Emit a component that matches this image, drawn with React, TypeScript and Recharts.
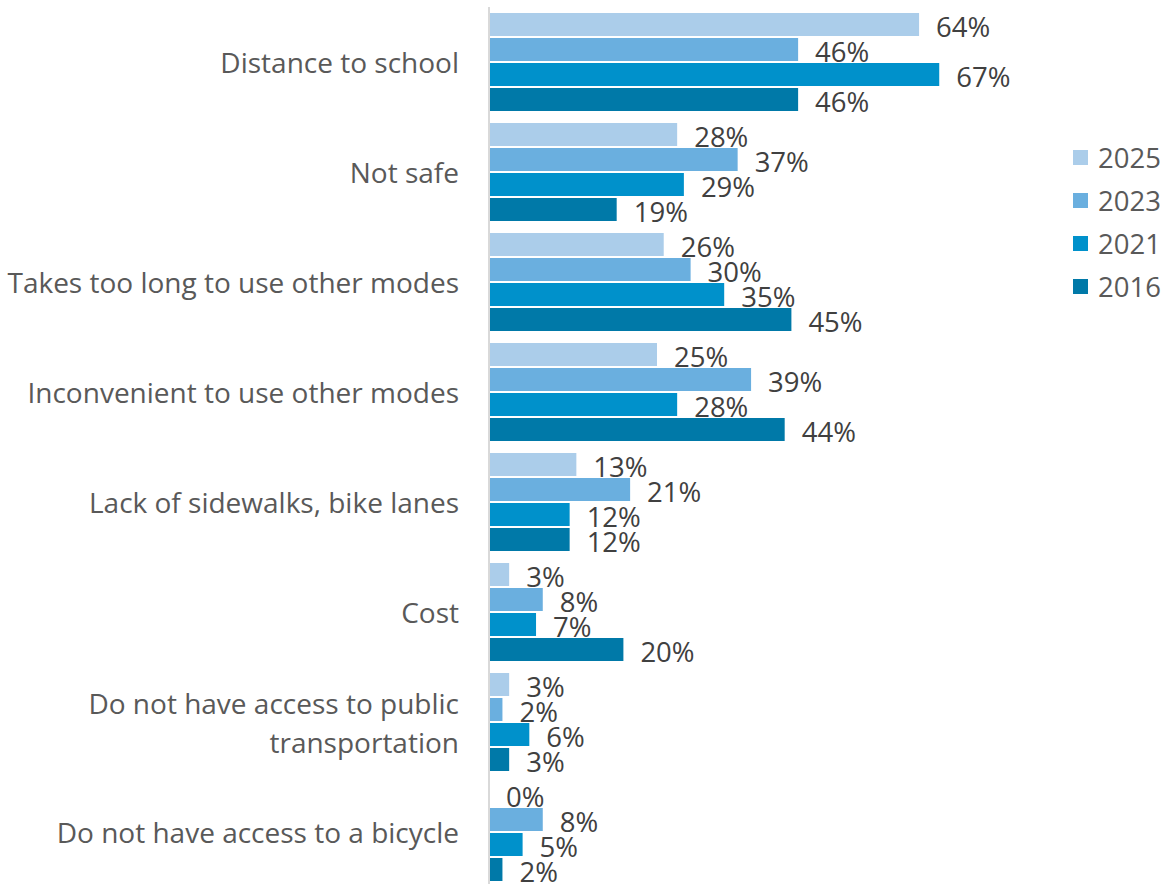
import React from "react";
import { BarChart, Bar, XAxis, YAxis } from "recharts";

const categories = [
  "Distance to school",
  "Not safe",
  "Takes too long to use other modes",
  "Inconvenient to use other modes",
  "Lack of sidewalks, bike lanes",
  "Cost",
  "Do not have access to public transportation",
  "Do not have access to a bicycle",
];

const values2025 = [64, 28, 26, 25, 13, 3, 3, 0];
const values2023 = [46, 37, 30, 39, 21, 8, 2, 8];
const values2021 = [67, 29, 35, 28, 12, 7, 6, 5];
const values2016 = [46, 19, 45, 44, 12, 20, 3, 2];

const series = [
  { key: "y2025", name: "2025", values: values2025, color: "#ABCDEA" },
  { key: "y2023", name: "2023", values: values2023, color: "#6AAFDF" },
  { key: "y2021", name: "2021", values: values2021, color: "#0091CB" },
  { key: "y2016", name: "2016", values: values2016, color: "#0079A8" },
];

const data = categories.map((c, i) => {
  const row: Record<string, string | number> = { category: c };
  series.forEach((s) => {
    row[s.key] = s.values[i];
  });
  return row;
});

const FONT = "'Open Sans', sans-serif";

function wrap(text: string, maxChars: number) {
  const words = text.split(" ");
  const lines: string[] = [];
  let cur = "";
  words.forEach((w) => {
    const next = cur ? cur + " " + w : w;
    if (next.length > maxChars && cur) {
      lines.push(cur);
      cur = w;
    } else {
      cur = next;
    }
  });
  if (cur) lines.push(cur);
  return lines;
}

const CategoryTick = (props: any) => {
  const { x, y, payload } = props;
  const lines = wrap(payload.value, 34);
  const lh = 39;
  const start = y - ((lines.length - 1) * lh) / 2;
  return (
    <text x={x} y={start} textAnchor="end" fill="#595959" fontSize={28} fontFamily={FONT}>
      {lines.map((l, i) => (
        <tspan key={i} x={x} y={start + i * lh} dominantBaseline="central">
          {l}
        </tspan>
      ))}
    </text>
  );
};

// bar plus its value label, so that zero-length bars still get "0%"
const BarWithLabel = (props: any) => {
  const { x, y, width, height, fill, value } = props;
  const v = Array.isArray(value) ? value[1] - value[0] : value;
  return (
    <g>
      {width > 0 && <rect x={x} y={y} width={width} height={height} fill={fill} />}
      <text
        x={x + Math.max(width, 0) + 17}
        y={y + height / 2 + 2}
        fill="#404040"
        fontSize={27.5}
        fontFamily={FONT}
        dominantBaseline="central"
      >
        {v}%
      </text>
    </g>
  );
};

const LegendBox = () => (
  <div
    style={{
      position: "absolute",
      left: 1073,
      top: 136,
      fontFamily: FONT,
    }}
  >
    {series.map((s) => (
      <div key={s.key} style={{ display: "flex", alignItems: "center", height: 43 }}>
        <span
          style={{
            width: 15,
            height: 15,
            background: s.color,
            display: "inline-block",
            marginRight: 10,
          }}
        />
        <span style={{ fontSize: 27.5, color: "#595959" }}>{s.name}</span>
      </div>
    ))}
  </div>
);

export default function App() {
  return (
    <div style={{ position: "absolute", left: 0, top: 0, background: "#fff" }}>
      <BarChart
        width={1169}
        height={890}
        data={data}
        layout="vertical"
        margin={{ top: 7, right: 8, left: 0, bottom: 3 }}
        barCategoryGap={6}
        barGap={2}
      >
        <XAxis type="number" domain={[0, 100]} hide />
        <YAxis
          type="category"
          dataKey="category"
          width={489}
          axisLine={{ stroke: "#D9D9D9", strokeWidth: 2 }}
          tickLine={false}
          tickSize={0}
          tickMargin={30}
          tick={<CategoryTick />}
          interval={0}
        />
        {series.map((s) => (
          <Bar
            key={s.key}
            dataKey={s.key}
            name={s.name}
            fill={s.color}
            shape={<BarWithLabel />}
            isAnimationActive={false}
          />
        ))}
      </BarChart>
      <LegendBox />
    </div>
  );
}
